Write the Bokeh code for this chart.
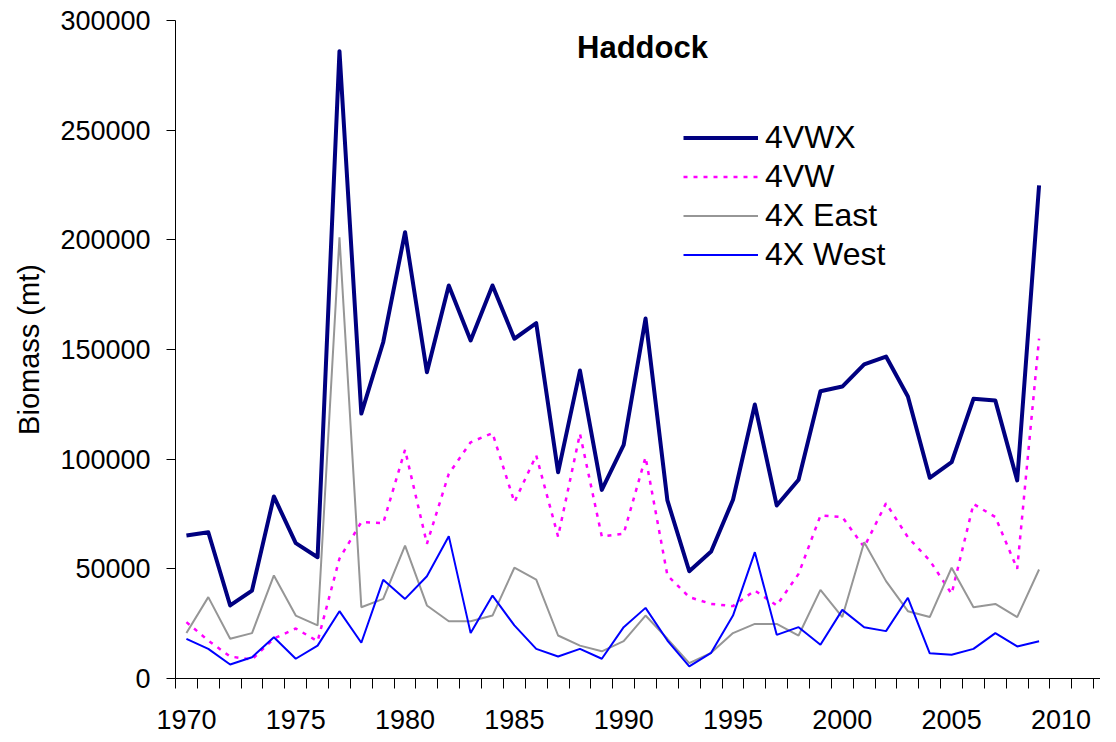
from bokeh.plotting import figure
from bokeh.models import FixedTicker, NumeralTickFormatter, Range1d, Legend, LegendItem, Label, ColumnDataSource
from bokeh.embed import file_html
from bokeh.resources import INLINE

years = list(range(1970, 2010))

vwx = [65200, 66700, 33300, 40100, 83000, 61700, 55300, 286000, 120800, 153300,
       203500, 139600, 179200, 154100, 179200, 154900, 162000, 94000, 140400, 86000,
       106500, 164100, 81200, 48900, 57900, 81500, 124900, 78900, 90600, 131000,
       133100, 143200, 146800, 128600, 91500, 98600, 127500, 126700, 90300, 224800]

vw = [25700, 17300, 10000, 8700, 18200, 22800, 17000, 54700, 71300, 70800,
      104300, 61400, 93300, 107700, 111900, 80400, 101700, 64700, 111600, 64700,
      66000, 100900, 47000, 37100, 34000, 33000, 40100, 33300, 47700, 74300,
      73600, 59900, 79900, 64400, 53800, 38600, 79600, 73600, 50000, 155000]

x_east = [20700, 37100, 18100, 20700, 47000, 28700, 24200, 201200, 32500, 36300,
          60600, 33300, 26100, 26100, 28700, 50500, 45100, 19600, 15000, 12400,
          17000, 28700, 18100, 7000, 11700, 20700, 24900, 24900, 19600, 40400,
          28000, 62100, 44400, 30700, 28000, 50500, 32500, 34000, 28000, 49700]

x_west = [18100, 13500, 6400, 9700, 18800, 9000, 15000, 30700, 16300, 45000,
          36300, 46600, 64900, 20700, 37800, 24200, 13500, 10000, 13500, 9000,
          23400, 32200, 17300, 5500, 11700, 28700, 57600, 19900, 23400, 15400,
          31300, 23400, 21600, 36800, 11500, 10800, 13500, 20700, 14600, 17000]

series_names = ["4VWX", "4VW", "4X East", "4X West"]
x_labels = [1970, 1975, 1980, 1985, 1990, 1995, 2000, 2005, 2010]
y_ticks = [0, 50000, 100000, 150000, 200000, 250000, 300000]

FONT = "Liberation Sans"

src = ColumnDataSource(dict(year=years, vwx=vwx, vw=vw, xe=x_east, xw=x_west))

p = figure(width=1100, height=734, output_backend="svg", toolbar_location=None,
           x_range=Range1d(1969.5, 2011.81), y_range=Range1d(0, 300000),
           min_border_left=175, min_border_right=0, min_border_top=20, min_border_bottom=56)
p.outline_line_color = None
p.xgrid.visible = False
p.ygrid.visible = False
p.background_fill_color = "white"
p.border_fill_color = "white"

r1 = p.line("year", "vwx", source=src, line_color="#000080", line_width=4, line_join="round")
r2 = p.line("year", "vw", source=src, line_color="#FF00FF", line_width=2.5, line_dash="4 6")
r3 = p.line("year", "xe", source=src, line_color="#969696", line_width=2)
r4 = p.line("year", "xw", source=src, line_color="#0000FF", line_width=2)

xa = p.xaxis[0]
xa.ticker = FixedTicker(ticks=x_labels, minor_ticks=[1969.5 + i for i in range(44)])
xa.major_tick_out = 0
xa.major_tick_in = 0
xa.minor_tick_out = 10
xa.minor_tick_in = 0
xa.minor_tick_line_color = "black"
xa.axis_line_color = "black"
xa.major_label_text_font = FONT
xa.major_label_text_font_size = "27px"
xa.major_label_text_color = "black"
xa.major_label_standoff = 21

ya = p.yaxis[0]
ya.ticker = FixedTicker(ticks=y_ticks)
ya.formatter = NumeralTickFormatter(format="0")
ya.major_tick_out = 9
ya.major_tick_in = 0
ya.minor_tick_out = 0
ya.minor_tick_in = 0
ya.axis_line_color = "black"
ya.major_tick_line_color = "black"
ya.major_label_text_font = FONT
ya.major_label_text_font_size = "27px"
ya.major_label_text_color = "black"
ya.major_label_standoff = 16
ya.axis_label = "Biomass (mt)"
ya.axis_label_text_font = FONT
ya.axis_label_text_font_size = "29px"
ya.axis_label_text_font_style = "normal"
ya.axis_label_text_color = "black"
ya.axis_label_standoff = 12

title = Label(x=467, y=631, x_units="screen", y_units="screen", text="Haddock",
              text_font=FONT, text_font_size="31px", text_font_style="bold",
              text_align="center", text_baseline="middle", text_color="black")
p.add_layout(title)

legend = Legend(items=[LegendItem(label=series_names[0], renderers=[r1]),
                       LegendItem(label=series_names[1], renderers=[r2]),
                       LegendItem(label=series_names[2], renderers=[r3]),
                       LegendItem(label=series_names[3], renderers=[r4])],
                location=(508, 404), orientation="vertical",
                label_text_font=FONT, label_text_font_size="32px", label_text_color="black",
                glyph_width=75, glyph_height=39, label_height=39, label_standoff=7,
                spacing=0, padding=0, margin=0,
                border_line_alpha=0, background_fill_alpha=0)
p.add_layout(legend)

open("out.html", "w").write(file_html(p, INLINE))
